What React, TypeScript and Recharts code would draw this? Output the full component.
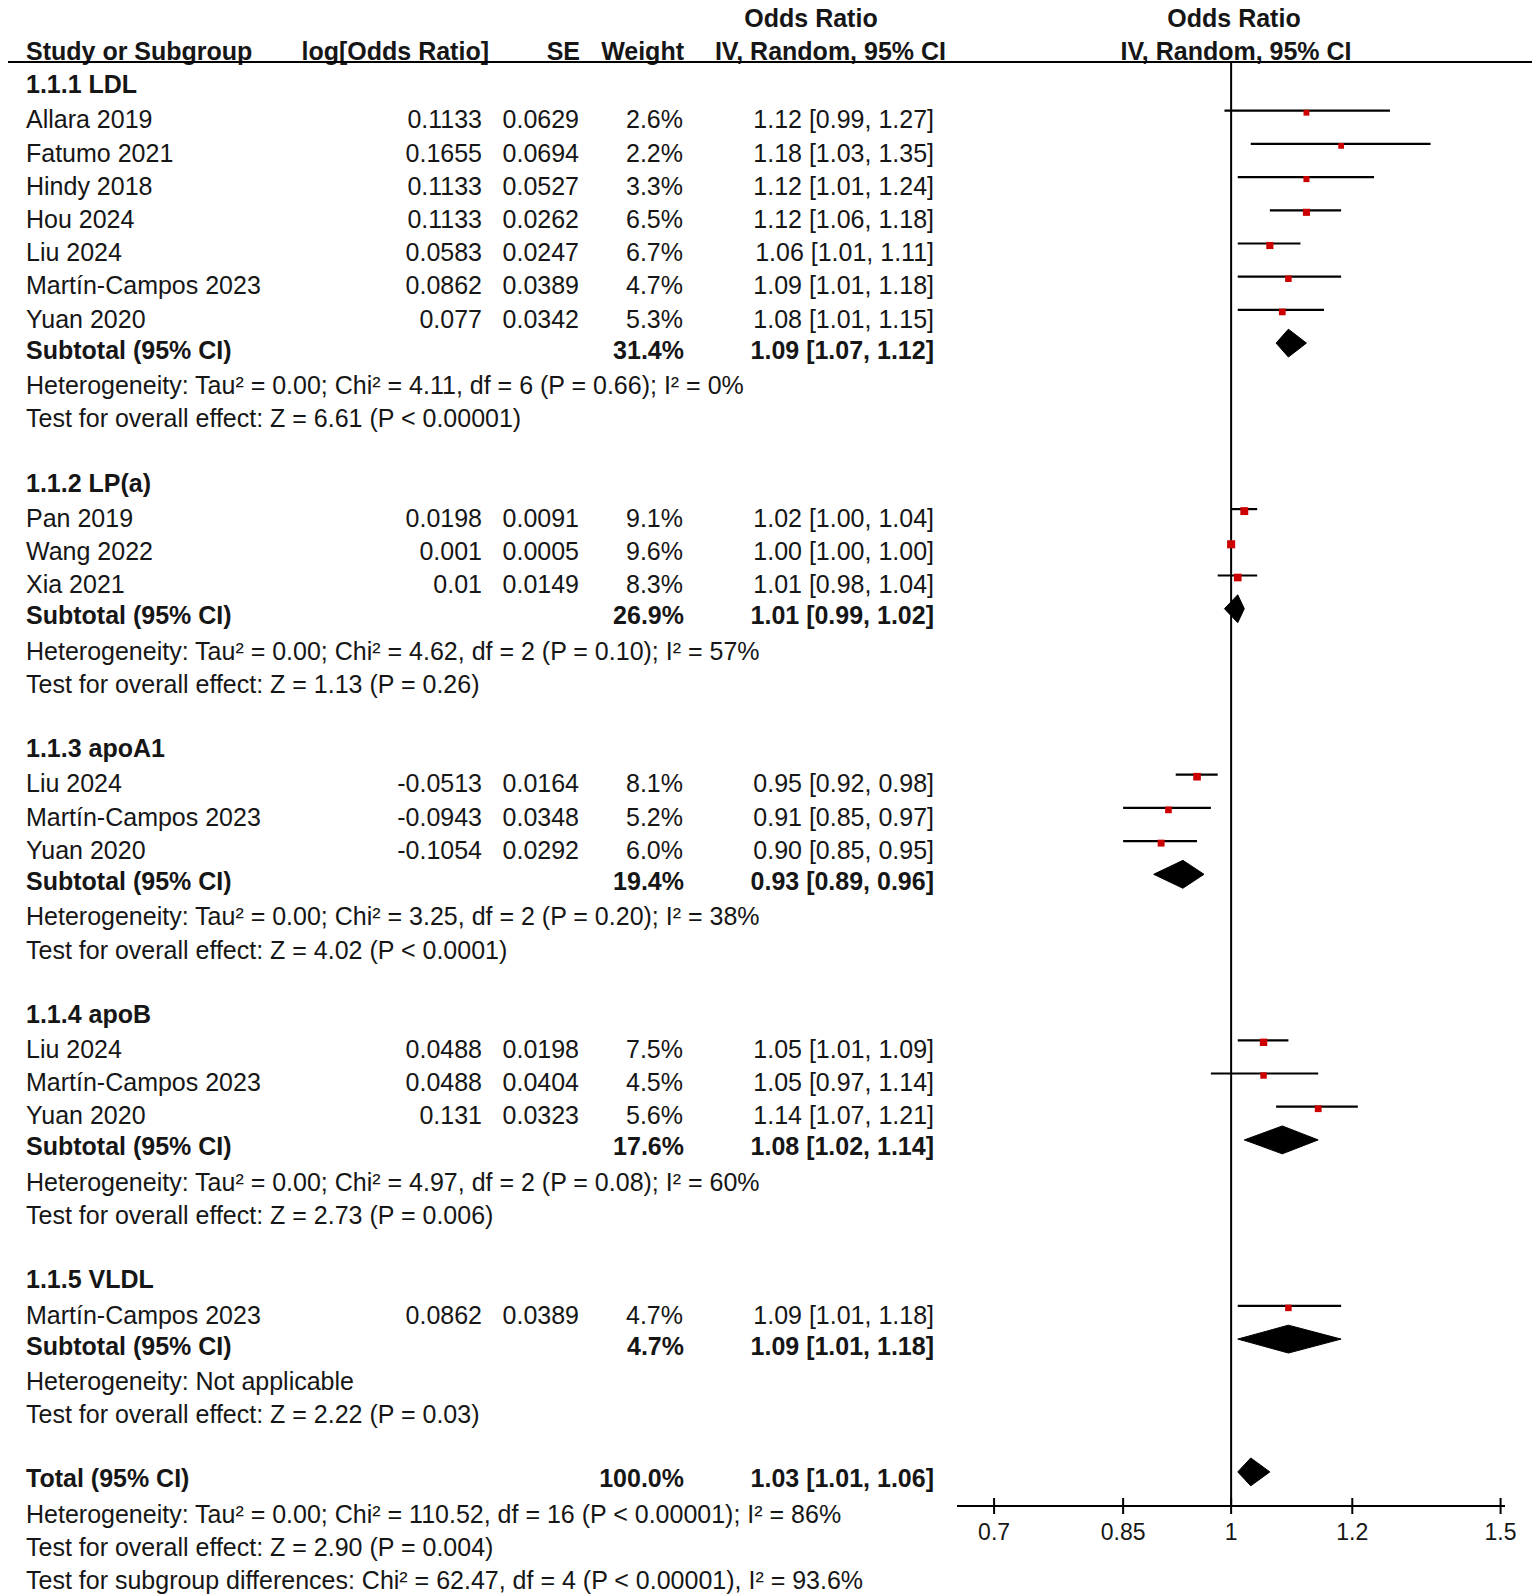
import React from "react";
import { ScatterChart, Scatter, XAxis, YAxis, ErrorBar, ReferenceLine } from "recharts";

// studies, in the order they appear in the plot
const studyNames = [
  "Allara 2019", "Fatumo 2021", "Hindy 2018", "Hou 2024", "Liu 2024", "Martín-Campos 2023", "Yuan 2020",
  "Pan 2019", "Wang 2022", "Xia 2021",
  "Liu 2024", "Martín-Campos 2023", "Yuan 2020",
  "Liu 2024", "Martín-Campos 2023", "Yuan 2020",
  "Martín-Campos 2023",
];
const studyGroup = [0, 0, 0, 0, 0, 0, 0, 1, 1, 1, 2, 2, 2, 3, 3, 3, 4];
const logOR = ["0.1133", "0.1655", "0.1133", "0.1133", "0.0583", "0.0862", "0.077", "0.0198", "0.001", "0.01",
  "-0.0513", "-0.0943", "-0.1054", "0.0488", "0.0488", "0.131", "0.0862"];
const se = ["0.0629", "0.0694", "0.0527", "0.0262", "0.0247", "0.0389", "0.0342", "0.0091", "0.0005", "0.0149",
  "0.0164", "0.0348", "0.0292", "0.0198", "0.0404", "0.0323", "0.0389"];
const weight = [2.6, 2.2, 3.3, 6.5, 6.7, 4.7, 5.3, 9.1, 9.6, 8.3, 8.1, 5.2, 6.0, 7.5, 4.5, 5.6, 4.7];
const oddsRatio = [1.12, 1.18, 1.12, 1.12, 1.06, 1.09, 1.08, 1.02, 1.0, 1.01, 0.95, 0.91, 0.9, 1.05, 1.05, 1.14, 1.09];
const ciLow = [0.99, 1.03, 1.01, 1.06, 1.01, 1.01, 1.01, 1.0, 1.0, 0.98, 0.92, 0.85, 0.85, 1.01, 0.97, 1.07, 1.01];
const ciHigh = [1.27, 1.35, 1.24, 1.18, 1.11, 1.18, 1.15, 1.04, 1.0, 1.04, 0.98, 0.97, 0.95, 1.09, 1.14, 1.21, 1.18];

// subgroups
const groupLabels = ["1.1.1 LDL", "1.1.2 LP(a)", "1.1.3 apoA1", "1.1.4 apoB", "1.1.5 VLDL"];
const subWeight = [31.4, 26.9, 19.4, 17.6, 4.7];
const subOR = [1.09, 1.01, 0.93, 1.08, 1.09];
const subLow = [1.07, 0.99, 0.89, 1.02, 1.01];
const subHigh = [1.12, 1.02, 0.96, 1.14, 1.18];
const subHet = [
  "Heterogeneity: Tau² = 0.00; Chi² = 4.11, df = 6 (P = 0.66); I² = 0%",
  "Heterogeneity: Tau² = 0.00; Chi² = 4.62, df = 2 (P = 0.10); I² = 57%",
  "Heterogeneity: Tau² = 0.00; Chi² = 3.25, df = 2 (P = 0.20); I² = 38%",
  "Heterogeneity: Tau² = 0.00; Chi² = 4.97, df = 2 (P = 0.08); I² = 60%",
  "Heterogeneity: Not applicable",
];
const subTest = [
  "Test for overall effect: Z = 6.61 (P < 0.00001)",
  "Test for overall effect: Z = 1.13 (P = 0.26)",
  "Test for overall effect: Z = 4.02 (P < 0.0001)",
  "Test for overall effect: Z = 2.73 (P = 0.006)",
  "Test for overall effect: Z = 2.22 (P = 0.03)",
];

// overall
const totalEstimate = [1.03, 1.01, 1.06]; // OR, low, high
const totalWeight = 100.0;
const totalNotes = [
  "Heterogeneity: Tau² = 0.00; Chi² = 110.52, df = 16 (P < 0.00001); I² = 86%",
  "Test for overall effect: Z = 2.90 (P = 0.004)",
  "Test for subgroup differences: Chi² = 62.47, df = 4 (P < 0.00001), I² = 93.6%",
];

const axisTicks = [0.7, 0.85, 1, 1.2, 1.5];

const FONT = "'Liberation Sans', Arial, Helvetica, sans-serif";
const INK = "#161616";

type Row = { kind: "group" | "study" | "sub" | "note" | "blank" | "total"; label?: string; i?: number; g?: number };

// lay the table out row by row
const rows: Row[] = [];
groupLabels.forEach((label, g) => {
  rows.push({ kind: "group", label });
  studyNames.forEach((_, i) => {
    if (studyGroup[i] === g) rows.push({ kind: "study", i });
  });
  rows.push({ kind: "sub", g });
  rows.push({ kind: "note", label: subHet[g] });
  rows.push({ kind: "note", label: subTest[g] });
  rows.push({ kind: "blank" });
});
const totalRow = rows.length;
rows.push({ kind: "total" });
totalNotes.forEach((t) => rows.push({ kind: "note", label: t }));

const ci = (o: number, l: number, h: number) => `${o.toFixed(2)} [${l.toFixed(2)}, ${h.toFixed(2)}]`;

const studyPoints = rows
  .map((r, idx) => ({ r, idx }))
  .filter(({ r }) => r.kind === "study")
  .map(({ r, idx }) => {
    const i = r.i as number;
    return { x: oddsRatio[i], y: idx, w: weight[i], err: [oddsRatio[i] - ciLow[i], ciHigh[i] - oddsRatio[i]] };
  });

// diamonds: left, top, right, bottom, back to left
const DH = 0.42;
const diamond = (row: number, o: number, l: number, h: number) => [
  { x: l, y: row },
  { x: o, y: row - DH },
  { x: h, y: row },
  { x: o, y: row + DH },
  { x: l, y: row },
];
const diamonds: { x: number; y: number }[][] = [];
rows.forEach((r, idx) => {
  if (r.kind === "sub") {
    const g = r.g as number;
    diamonds.push(diamond(idx, subOR[g], subLow[g], subHigh[g]));
  }
});
diamonds.push(diamond(totalRow, totalEstimate[0], totalEstimate[1], totalEstimate[2]));

const tableTicks = [-1, ...rows.map((_, i) => i)];

const T = (p: any) => (
  <text fontFamily={FONT} fontSize={25} fill={INK} {...p} />
);

const TableTick = (props: any) => {
  const { y, payload } = props;
  const r = payload.value as number;
  if (r === -1) {
    return (
      <g fontWeight="bold">
        <T x={811} y={y - 17.8} textAnchor="middle" fontWeight="bold">Odds Ratio</T>
        <T x={1234} y={y - 17.8} textAnchor="middle" fontWeight="bold">Odds Ratio</T>
        <T x={26} y={y + 15.2} fontWeight="bold">Study or Subgroup</T>
        <T x={489} y={y + 15.2} textAnchor="end" fontWeight="bold">log[Odds Ratio]</T>
        <T x={580} y={y + 15.2} textAnchor="end" fontWeight="bold">SE</T>
        <T x={684} y={y + 15.2} textAnchor="end" fontWeight="bold">Weight</T>
        <T x={946} y={y + 15.2} textAnchor="end" fontWeight="bold">IV, Random, 95% CI</T>
        <T x={1236} y={y + 15.2} textAnchor="middle" fontWeight="bold">IV, Random, 95% CI</T>
        <line x1={8} x2={1532} y1={y + 17.7} y2={y + 17.7} stroke="#000" strokeWidth={2} />
      </g>
    );
  }
  const row = rows[r];
  if (!row || row.kind === "blank") return <g />;
  if (row.kind === "group") {
    return <T x={26} y={y + 15.7} fontWeight="bold">{row.label}</T>;
  }
  if (row.kind === "note") {
    return <T x={26} y={y + 17.8}>{row.label}</T>;
  }
  if (row.kind === "study") {
    const i = row.i as number;
    const b = y + 17.6;
    return (
      <g>
        <T x={26} y={b}>{studyNames[i]}</T>
        <T x={482} y={b} textAnchor="end">{logOR[i]}</T>
        <T x={579} y={b} textAnchor="end">{se[i]}</T>
        <T x={683} y={b} textAnchor="end">{weight[i].toFixed(1)}%</T>
        <T x={934} y={b} textAnchor="end">{ci(oddsRatio[i], ciLow[i], ciHigh[i])}</T>
      </g>
    );
  }
  const isTotal = row.kind === "total";
  const g = row.g as number;
  const b = y + 15.4;
  return (
    <g>
      <T x={26} y={b} fontWeight="bold">{isTotal ? "Total (95% CI)" : "Subtotal (95% CI)"}</T>
      <T x={684} y={b} textAnchor="end" fontWeight="bold">
        {(isTotal ? totalWeight : subWeight[g]).toFixed(1)}%
      </T>
      <T x={934} y={b} textAnchor="end" fontWeight="bold">
        {isTotal
          ? ci(totalEstimate[0], totalEstimate[1], totalEstimate[2])
          : ci(subOR[g], subLow[g], subHigh[g])}
      </T>
    </g>
  );
};

const AxisTick = (props: any) => {
  const { x, y, payload } = props;
  return (
    <g>
      <line x1={x} x2={x} y1={y - 8} y2={y + 8} stroke="#000" strokeWidth={2} />
      <text x={x} y={y + 34} textAnchor="middle" fontFamily={FONT} fontSize={23} fill={INK}>
        {String(payload.value)}
      </text>
    </g>
  );
};

const RedSquare = (props: any) => {
  const { cx, cy, payload } = props;
  const s = 5 + 0.32 * payload.w;
  return <rect x={cx - s / 2} y={cy + 2 - s / 2} width={s} height={s} fill="#cc0000" />;
};

const Nothing = () => <g />;

export default function App() {
  return (
    <div style={{ position: "absolute", left: 0, top: 0, width: 1535, height: 1594, background: "#fff" }}>
      <ScatterChart width={1535} height={1594} margin={{ top: 62, right: 30, bottom: 48, left: 0 }}>
        <XAxis
          type="number"
          dataKey="x"
          scale="log"
          domain={[0.662, 1.51]}
          allowDataOverflow
          ticks={axisTicks}
          interval={0}
          height={40}
          tickSize={0}
          tickMargin={0}
          tickLine={false}
          axisLine={{ stroke: "#000", strokeWidth: 2 }}
          tick={<AxisTick />}
        />
        <YAxis
          type="number"
          dataKey="y"
          domain={[-0.467, 43.027]}
          reversed
          allowDataOverflow
          ticks={tableTicks}
          interval={0}
          width={957}
          axisLine={false}
          tickLine={false}
          tick={<TableTick />}
        />
        <ReferenceLine x={1} stroke="#000" strokeWidth={2} />
        <Scatter data={studyPoints} shape={<RedSquare />} isAnimationActive={false}>
          <ErrorBar dataKey="err" direction="x" width={0} stroke="#000" strokeWidth={2.2} isAnimationActive={false} />
        </Scatter>
        {diamonds.map((d, k) => (
          <Scatter
            key={k}
            data={d}
            shape={<Nothing />}
            line={{ stroke: "#000", strokeWidth: 1, fill: "#000" }}
            isAnimationActive={false}
          />
        ))}
      </ScatterChart>
    </div>
  );
}
